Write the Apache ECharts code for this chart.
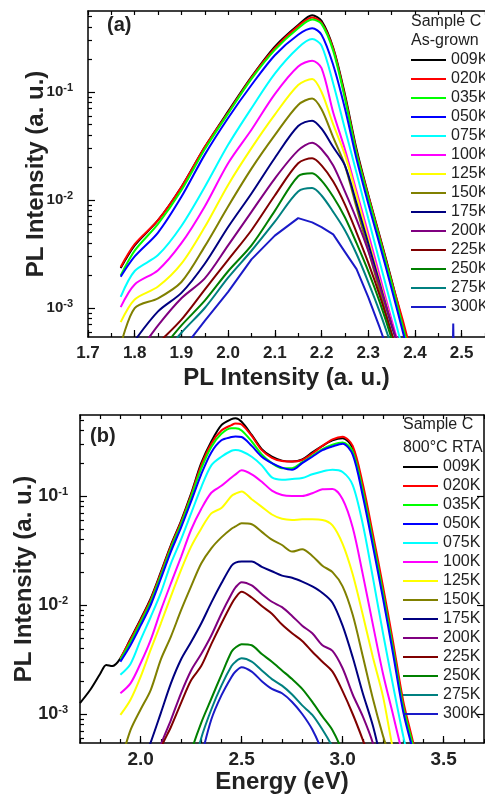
<!DOCTYPE html>
<html>
<head>
<meta charset="utf-8">
<title>PL spectra - Sample C</title>
<script src="https://cdn.jsdelivr.net/npm/echarts@6/dist/echarts.min.js"></script>
<style>
    html, body { margin: 0; padding: 0; background: #fff; }
    #chart { width: 485px; height: 795px; }
</style>
</head>
<body>
<div id="chart"></div>
<script>
// temperatures, same set in both panels
const temps = ['009K', '020K', '035K', '050K', '075K', '100K', '125K', '150K', '175K', '200K', '225K', '250K', '275K', '300K']
const lineColors = ['#000000', '#ff0000', '#00ff00', '#0000ff', '#00ffff', '#ff00ff', '#ffff00',
    '#808000', '#000080', '#800080', '#800000', '#008000', '#008080', '#1a1ac8']

// (a) as-grown, photon energy in eV
const energyA = [1.77, 1.80, 1.85, 1.90, 1.95, 2.00, 2.05, 2.10, 2.15, 2.18, 2.20, 2.225, 2.25, 2.275, 2.30, 2.325, 2.35, 2.375, 2.40]
const asGrown009 = [2.34e-3, 3.8e-3, 6.5e-3, 1.32e-2, 3.09e-2, 6.61e-2, 0.138, 0.263, 0.417, 0.513, 0.457, 0.257, 0.0955, 0.0295, 0.0112, 4.57e-3, 1.82e-3, 6.9e-4, 2.5e-4]
const asGrown020 = [2.40e-3, 3.9e-3, 6.5e-3, 1.32e-2, 3.09e-2, 6.46e-2, 0.136, 0.254, 0.407, 0.490, 0.437, 0.251, 0.0912, 0.0282, 0.0110, 4.47e-3, 1.78e-3, 7.4e-4, 2.8e-4]
const asGrown035 = [2.0e-3, 3.4e-3, 6.0e-3, 1.23e-2, 2.95e-2, 6.31e-2, 0.132, 0.245, 0.389, 0.468, 0.427, 0.240, 0.0871, 0.0269, 0.0105, 4.27e-3, 1.70e-3, 6.5e-4, 2.5e-4]
const asGrown050 = [1.95e-3, 3.0e-3, 5.0e-3, 1.07e-2, 2.63e-2, 5.75e-2, 0.116, 0.219, 0.339, 0.389, 0.339, 0.178, 0.0708, 0.0240, 9.3e-3, 3.80e-3, 1.51e-3, 5.8e-4, 2.2e-4]
const asGrown075 = [1.27e-3, 2.2e-3, 3.09e-3, 5.75e-3, 1.32e-2, 3.24e-2, 7.08e-2, 0.148, 0.257, 0.309, 0.269, 0.120, 0.0457, 0.0178, 6.76e-3, 2.63e-3, 1.02e-3, 4.0e-4, 1.6e-4]
const asGrown100 = [1.02e-3, 1.65e-3, 2.24e-3, 3.98e-3, 8.71e-3, 2.19e-2, 4.47e-2, 9.55e-2, 0.172, 0.195, 0.166, 0.0646, 0.0295, 0.0120, 4.90e-3, 1.95e-3, 7.8e-4, 3.2e-4, 1.3e-4]
const asGrown125 = [7.4e-4, 1.2e-3, 1.58e-3, 2.57e-3, 5.62e-3, 1.38e-2, 3.02e-2, 6.17e-2, 0.116, 0.132, 0.100, 0.0501, 0.0263, 0.0110, 4.37e-3, 1.74e-3, 7.1e-4, 2.8e-4, 1.3e-4]
const asGrown150 = [4.5e-4, 1.0e-3, 1.23e-3, 1.74e-3, 3.72e-3, 8.71e-3, 1.95e-2, 3.98e-2, 7.59e-2, 8.71e-2, 6.92e-2, 3.80e-2, 2.09e-2, 8.51e-3, 3.47e-3, 1.41e-3, 5.8e-4, 2.5e-4, 1.3e-4]
const asGrown175 = [3.2e-4, 5.0e-4, 9.3e-4, 1.38e-3, 2.57e-3, 5.62e-3, 1.15e-2, 2.45e-2, 4.84e-2, 5.43e-2, 4.57e-2, 3.09e-2, 2.09e-2, 9.3e-3, 3.98e-3, 1.66e-3, 6.9e-4, 3.2e-4, 1.3e-4]
const asGrown200 = [2.5e-4, 3.5e-4, 6.9e-4, 1.23e-3, 1.88e-3, 3.80e-3, 7.76e-3, 1.58e-2, 2.88e-2, 3.39e-2, 2.95e-2, 2.09e-2, 1.20e-2, 6.61e-3, 3.39e-3, 1.58e-3, 7.1e-4, 3.2e-4, 1.3e-4]
const asGrown225 = [2.0e-4, 2.8e-4, 4.7e-4, 7.8e-4, 1.48e-3, 2.79e-3, 5.25e-3, 1.10e-2, 2.19e-2, 2.43e-2, 2.09e-2, 1.48e-2, 9.1e-3, 5.0e-3, 2.63e-3, 1.29e-3, 5.8e-4, 2.5e-4, 1.0e-4]
const asGrown250 = [1.6e-4, 2.2e-4, 3.8e-4, 6.9e-4, 1.17e-3, 2.19e-3, 3.80e-3, 7.94e-3, 1.66e-2, 1.77e-2, 1.51e-2, 1.07e-2, 6.92e-3, 3.98e-3, 2.19e-3, 1.12e-3, 5.2e-4, 2.2e-4, 1.0e-4]
const asGrown275 = [1.3e-4, 1.8e-4, 3.2e-4, 5.9e-4, 1.0e-3, 1.91e-3, 3.39e-3, 6.3e-3, 1.20e-2, 1.29e-2, 1.10e-2, 7.76e-3, 5.25e-3, 3.16e-3, 1.74e-3, 9.1e-4, 4.4e-4, 2.0e-4, 1.0e-4]
const asGrown300 = [1.0e-4, 1.4e-4, 2.5e-4, 4.0e-4, 7.6e-4, 1.41e-3, 2.82e-3, 4.68e-3, 6.8e-3, 6.2e-3, 5.6e-3, 4.8e-3, 3.31e-3, 2.29e-3, 1.26e-3, 6.5e-4, 3.2e-4, 1.6e-4, 1.0e-4]
// little spike in the 300K trace near 2.48 eV
const spikeEnergy = [2.47, 2.479, 2.482, 2.485]
const spike300 = [1.0e-4, 1.0e-4, 7.2e-4, 1.0e-4]

// (b) after 800°C RTA
const energyB = [1.70, 1.75, 1.80, 1.83, 1.86, 1.90, 1.95, 2.00, 2.05, 2.10, 2.15, 2.20, 2.25, 2.30, 2.35, 2.40, 2.45, 2.47, 2.50,
    2.55, 2.60, 2.65, 2.70, 2.75, 2.80, 2.85, 2.90, 2.95, 3.00, 3.05, 3.10, 3.15, 3.20, 3.25, 3.30, 3.35, 3.40]
const rta009 = [1.26e-3, 1.66e-3, 2.34e-3, 2.82e-3, 2.75e-3, 3.24e-3, 4.90e-3, 7.41e-3, 1.15e-2, 2.00e-2, 3.55e-2, 5.89e-2, 0.105, 0.200, 0.316, 0.447, 0.507, 0.516, 0.479,
    0.363, 0.269, 0.229, 0.211, 0.207, 0.216, 0.251, 0.288, 0.324, 0.339, 0.275, 0.117, 4.07e-2, 1.35e-2, 4.17e-3, 1.20e-3, 4.8e-4, 1.6e-4]
const rta020 = [null, null, null, null, null, 3.24e-3, 4.79e-3, 7.24e-3, 1.12e-2, 1.95e-2, 3.47e-2, 5.75e-2, 0.102, 0.191, 0.302, 0.398, 0.447, 0.462, 0.452,
    0.355, 0.263, 0.224, 0.209, 0.207, 0.214, 0.245, 0.288, 0.331, 0.350, 0.288, 0.129, 4.47e-2, 1.48e-2, 4.57e-3, 1.32e-3, 5.4e-4, 2.0e-4]
const rta035 = [null, null, null, null, null, 3.16e-3, 4.57e-3, 6.92e-3, 1.07e-2, 1.86e-2, 3.31e-2, 5.50e-2, 9.77e-2, 0.178, 0.282, 0.372, 0.417, 0.417, 0.398,
    0.316, 0.240, 0.200, 0.180, 0.180, 0.204, 0.234, 0.269, 0.295, 0.309, 0.257, 0.112, 3.89e-2, 1.29e-2, 3.98e-3, 1.17e-3, 5.0e-4, 2.0e-4]
const rta050 = [null, null, null, null, null, 3.02e-3, 4.27e-3, 6.46e-3, 1.00e-2, 1.74e-2, 3.09e-2, 5.13e-2, 8.91e-2, 0.158, 0.251, 0.324, 0.347, 0.351, 0.347,
    0.288, 0.229, 0.200, 0.182, 0.174, 0.200, 0.229, 0.263, 0.285, 0.302, 0.240, 0.100, 3.47e-2, 1.15e-2, 3.55e-3, 1.05e-3, 4.5e-4, 2.0e-4]
const rta075 = [null, null, null, null, null, 2.29e-3, 2.88e-3, 4.79e-3, 7.76e-3, 1.29e-2, 2.40e-2, 3.98e-2, 6.92e-2, 0.120, 0.191, 0.229, 0.260, 0.264, 0.257,
    0.229, 0.191, 0.148, 0.141, 0.143, 0.146, 0.158, 0.168, 0.174, 0.166, 0.126, 5.50e-2, 1.78e-2, 5.50e-3, 1.82e-3, 6.3e-4, 2.5e-4, 1.0e-4]
const rta100 = [null, null, null, null, null, 1.55e-3, 1.91e-3, 2.92e-3, 4.79e-3, 8.91e-3, 1.58e-2, 2.75e-2, 4.90e-2, 7.59e-2, 0.107, 0.124, 0.148, 0.158, 0.172,
    0.158, 0.135, 0.112, 0.102, 0.100, 0.100, 0.106, 0.115, 0.116, 9.33e-2, 5.13e-2, 1.91e-2, 6.61e-3, 2.34e-3, 9.8e-4, 4.0e-4, 1.6e-4, 1.0e-4]
const rta125 = [null, null, null, null, null, 9.8e-4, 1.35e-3, 2.19e-3, 3.89e-3, 6.76e-3, 1.20e-2, 2.09e-2, 3.43e-2, 5.01e-2, 6.92e-2, 7.76e-2, 0.100, 0.105, 0.110,
    9.33e-2, 7.94e-2, 6.76e-2, 6.17e-2, 6.03e-2, 6.10e-2, 6.10e-2, 6.03e-2, 5.37e-2, 3.63e-2, 1.91e-2, 8.13e-3, 3.31e-3, 1.45e-3, 4.7e-4, 2.0e-4, 1.0e-4, 1.0e-4]
const rta150 = [null, null, null, null, null, 3.5e-4, 7.1e-4, 1.10e-3, 1.66e-3, 3.16e-3, 5.13e-3, 8.91e-3, 1.48e-2, 2.40e-2, 3.31e-2, 4.17e-2, 5.01e-2, 5.25e-2, 5.62e-2,
    5.50e-2, 4.68e-2, 3.98e-2, 3.55e-2, 3.09e-2, 3.24e-2, 2.82e-2, 2.29e-2, 2.00e-2, 1.48e-2, 8.13e-3, 3.39e-3, 1.38e-3, 6.3e-4, 3.2e-4, 1.3e-4, 1.0e-4, 1.0e-4]
const rta175 = [null, null, null, null, null, 1.3e-4, 2.0e-4, 3.2e-4, 5.5e-4, 1.02e-3, 1.91e-3, 3.16e-3, 4.57e-3, 6.76e-3, 1.05e-2, 1.58e-2, 2.29e-2, 2.45e-2, 2.51e-2,
    2.51e-2, 2.24e-2, 2.04e-2, 1.86e-2, 1.78e-2, 1.64e-2, 1.48e-2, 1.29e-2, 1.05e-2, 6.46e-3, 3.31e-3, 1.55e-3, 7.8e-4, 3.2e-4, 1.3e-4, 1.0e-4, 1.0e-4, 1.0e-4]
const rta200 = [null, null, null, null, null, 1.0e-4, 1.0e-4, 1.6e-4, 2.5e-4, 5.2e-4, 8.8e-4, 1.55e-3, 2.51e-3, 3.55e-3, 5.25e-3, 8.32e-3, 1.26e-2, 1.45e-2, 1.62e-2,
    1.51e-2, 1.26e-2, 1.07e-2, 9.55e-3, 7.94e-3, 6.46e-3, 5.50e-3, 4.27e-3, 3.80e-3, 2.63e-3, 1.51e-3, 9.5e-4, 5.4e-4, 2.5e-4, 1.0e-4, 1.0e-4, 1.0e-4, 1.0e-4]
const rta225 = [null, null, null, null, null, 1.0e-4, 1.0e-4, 1.0e-4, 2.0e-4, 4.8e-4, 7.6e-4, 1.26e-3, 2.04e-3, 2.75e-3, 4.37e-3, 6.76e-3, 1.02e-2, 1.17e-2, 1.32e-2,
    1.17e-2, 9.77e-3, 8.32e-3, 6.61e-3, 5.50e-3, 4.68e-3, 3.72e-3, 3.02e-3, 2.45e-3, 1.62e-3, 1.0e-3, 5.8e-4, 3.2e-4, 1.0e-4, 1.0e-4, 1.0e-4, 1.0e-4, 1.0e-4]
const rta250 = [null, null, null, null, null, 1.0e-4, 1.0e-4, 1.0e-4, 1.0e-4, 1.0e-4, 1.0e-4, 2.0e-4, 4.5e-4, 8.3e-4, 1.38e-3, 2.29e-3, 3.72e-3, 4.07e-3, 4.37e-3,
    4.27e-3, 3.55e-3, 3.02e-3, 2.51e-3, 2.09e-3, 1.70e-3, 1.29e-3, 9.5e-4, 7.1e-4, 4.5e-4, 2.5e-4, 1.0e-4, 1.0e-4, 1.0e-4, 1.0e-4, 1.0e-4, 1.0e-4, 1.0e-4]
const rta275 = [null, null, null, null, null, 1.0e-4, 1.0e-4, 1.0e-4, 1.0e-4, 1.0e-4, 1.0e-4, 1.0e-4, 2.5e-4, 6.0e-4, 1.10e-3, 1.82e-3, 2.75e-3, 3.02e-3, 3.24e-3,
    3.02e-3, 2.51e-3, 2.09e-3, 1.82e-3, 1.51e-3, 1.20e-3, 9.8e-4, 7.2e-4, 5.0e-4, 3.2e-4, 1.0e-4, 1.0e-4, 1.0e-4, 1.0e-4, 1.0e-4, 1.0e-4, 1.0e-4, 1.0e-4]
const rta300 = [null, null, null, null, null, 1.0e-4, 1.0e-4, 1.0e-4, 1.0e-4, 1.0e-4, 1.0e-4, 1.0e-4, 1.6e-4, 4.0e-4, 8.9e-4, 1.48e-3, 2.19e-3, 2.45e-3, 2.69e-3,
    2.45e-3, 2.00e-3, 1.70e-3, 1.55e-3, 1.29e-3, 1.0e-3, 7.2e-4, 4.5e-4, 2.5e-4, 1.0e-4, 1.0e-4, 1.0e-4, 1.0e-4, 1.0e-4, 1.0e-4, 1.0e-4, 1.0e-4, 1.0e-4]

// ticks
const tickLabelsA = [1.7, 1.8, 1.9, 2.0, 2.1, 2.2, 2.3, 2.4, 2.5]
const tickLabelsB = [2.0, 2.5, 3.0, 3.5]
const decades = [1e-3, 1e-2, 1e-1]
const minorLog = [6e-4, 7e-4, 8e-4, 9e-4, 2e-3, 3e-3, 4e-3, 5e-3, 6e-3, 7e-3, 8e-3, 9e-3,
    2e-2, 3e-2, 4e-2, 5e-2, 6e-2, 7e-2, 8e-2, 9e-2, 2e-1, 3e-1, 4e-1, 5e-1]

const asGrown = [asGrown009, asGrown020, asGrown035, asGrown050, asGrown075, asGrown100, asGrown125,
    asGrown150, asGrown175, asGrown200, asGrown225, asGrown250, asGrown275, asGrown300]
const annealed = [rta009, rta020, rta035, rta050, rta075, rta100, rta125,
    rta150, rta175, rta200, rta225, rta250, rta275, rta300]

const FONT = 'Liberation Sans, Arial, Helvetica, sans-serif'
const INK = '#222'

function pairs(xs, ys) {
    const out = []
    xs.forEach((x, i) => {
        if (ys[i] != null) out.push([x, ys[i]])
    })
    return out
}

function lineSeries(name, color, data, xi, yi, smooth) {
    return {
        name: name,
        type: 'line',
        xAxisIndex: xi,
        yAxisIndex: yi,
        data: data,
        smooth: smooth,
        showSymbol: false,
        symbol: 'none',
        lineStyle: { color: color, width: 2 },
        itemStyle: { color: color },
        animation: false,
    }
}

const series = []
temps.forEach((t, i) => {
    let d = pairs(energyA, asGrown[i])
    // the spike would get rounded off, so keep 300K as a plain polyline
    if (t === '300K') d = d.concat(pairs(spikeEnergy, spike300))
    series.push(lineSeries(t, lineColors[i], d, 0, 0, t === '300K' ? false : 0.3))
})
temps.forEach((t, i) => {
    series.push(lineSeries(t, lineColors[i], pairs(energyB, annealed[i]), 3, 2, 0.3))
})

function powerLabel(v) {
    return '{b|10}{s|' + Math.round(Math.log10(v)) + '}'
}
function richFor(size, supSize) {
    return {
        b: { fontSize: size, fontWeight: 'bold', fontFamily: FONT, color: INK },
        s: { fontSize: supSize, fontWeight: 'bold', fontFamily: FONT, color: INK, verticalAlign: 'top', padding: [0, 0, 8, 0] },
    }
}

const frame = { show: true, onZero: false, lineStyle: { color: '#000', width: 1.5 } }
const nameStyle = { fontSize: 24, fontWeight: 'bold', fontFamily: FONT, color: INK }

function xMain(grid, min, max, interval, labels, fontSize, margin, name, gap) {
    return {
        type: 'value', gridIndex: grid, position: 'bottom', min: min, max: max, interval: interval,
        axisLine: frame,
        axisTick: { inside: true, length: 4, lineStyle: { color: '#000', width: 1.2 } },
        axisLabel: {
            customValues: labels, margin: margin, formatter: v => v.toFixed(1),
            fontSize: fontSize, fontWeight: 'bold', fontFamily: FONT, color: INK,
        },
        splitLine: { show: false },
        name: name, nameLocation: 'middle', nameGap: gap, nameTextStyle: nameStyle,
    }
}
function xMajor(grid, min, max, labels) {
    return {
        type: 'value', gridIndex: grid, position: 'bottom', min: min, max: max,
        axisLine: { show: false, onZero: false },
        axisTick: { inside: true, length: 7, customValues: labels, lineStyle: { color: '#000', width: 1.2 } },
        axisLabel: { show: false },
        splitLine: { show: false },
    }
}
function xTop(grid, min, max, interval) {
    return {
        type: 'value', gridIndex: grid, position: 'top', min: min, max: max, interval: interval,
        axisLine: frame,
        axisTick: { inside: true, length: 4, lineStyle: { color: '#000', width: 1.2 } },
        axisLabel: { show: false },
        splitLine: { show: false },
    }
}
function yMain(grid, min, max, labelSize, supSize, margin, gap) {
    return {
        type: 'log', logBase: 10, gridIndex: grid, position: 'left', min: min, max: max,
        axisLine: frame,
        axisTick: { inside: true, length: 7, customValues: decades, lineStyle: { color: '#000', width: 1.2 } },
        axisLabel: { customValues: decades, margin: margin, formatter: powerLabel, rich: richFor(labelSize, supSize) },
        splitLine: { show: false },
        name: 'PL Intensity (a. u.)', nameLocation: 'middle', nameGap: gap, nameMoveOverlap: false,
        nameTextStyle: nameStyle,
    }
}
function yMinor(grid, min, max, position) {
    return {
        type: 'log', logBase: 10, gridIndex: grid, position: position, min: min, max: max,
        axisLine: { show: false, onZero: false },
        axisTick: { inside: true, length: 4, customValues: minorLog, lineStyle: { color: '#000', width: 1.2 } },
        axisLabel: { show: false },
        splitLine: { show: false },
    }
}

const legendBase = {
    data: temps, orient: 'vertical', icon: 'rect', itemWidth: 35, itemHeight: 2, itemGap: 0, padding: 0,
    selectedMode: false,
    textStyle: { fontSize: 16, lineHeight: 19, color: INK, fontFamily: FONT },
}

const chart = echarts.init(document.getElementById('chart'), null, { renderer: 'canvas' })
chart.setOption({
    backgroundColor: '#fff',
    animation: false,
    grid: [
        { left: 88, top: 11, width: 402, height: 326 },
        { left: 80, top: 415, width: 404, height: 328 },
    ],
    title: [
        { text: 'Sample C\nAs-grown', left: 411, top: 12.5, padding: 0,
            textStyle: { fontSize: 16, fontWeight: 'normal', lineHeight: 19, color: INK, fontFamily: FONT } },
        { text: 'Sample C\n800°C RTA', left: 403, top: 413.5, padding: 0,
            textStyle: { fontSize: 16, fontWeight: 'normal', lineHeight: 23, color: INK, fontFamily: FONT } },
    ],
    legend: [
        Object.assign({}, legendBase, { left: 411, top: 50.5 }),
        Object.assign({}, legendBase, { left: 403, top: 457.5 }),
    ],
    graphic: [
        { type: 'text', left: 107, top: 15, style: { text: '(a)', font: 'bold 20px ' + FONT, fill: INK } },
        { type: 'text', left: 90, top: 426, style: { text: '(b)', font: 'bold 20px ' + FONT, fill: INK } },
    ],
    xAxis: [
        xMain(0, 1.7, 2.55, 0.05, tickLabelsA, 17, 8, 'PL Intensity (a. u.)', 29),
        xMajor(0, 1.7, 2.55, tickLabelsA),
        xTop(0, 1.7, 2.55, 0.05),
        xMain(1, 1.7, 3.7, 0.1, tickLabelsB, 19, 7, 'Energy (eV)', 27),
        xMajor(1, 1.7, 3.7, tickLabelsB),
        xTop(1, 1.7, 3.7, 0.1),
    ],
    yAxis: [
        yMain(0, 5.39e-4, 0.562, 15, 11, 15, 40),
        yMinor(0, 5.39e-4, 0.562, 'left'),
        yMain(1, 5.42e-4, 0.553, 18, 11, 12, 44),
        yMinor(1, 5.42e-4, 0.553, 'left'),
        {
            type: 'log', logBase: 10, gridIndex: 1, position: 'right', min: 5.42e-4, max: 0.553,
            axisLine: frame,
            axisTick: { inside: true, length: 7, customValues: decades, lineStyle: { color: '#000', width: 1.2 } },
            axisLabel: { show: false },
            splitLine: { show: false },
        },
    ],
    series: series,
})
</script>
</body>
</html>
